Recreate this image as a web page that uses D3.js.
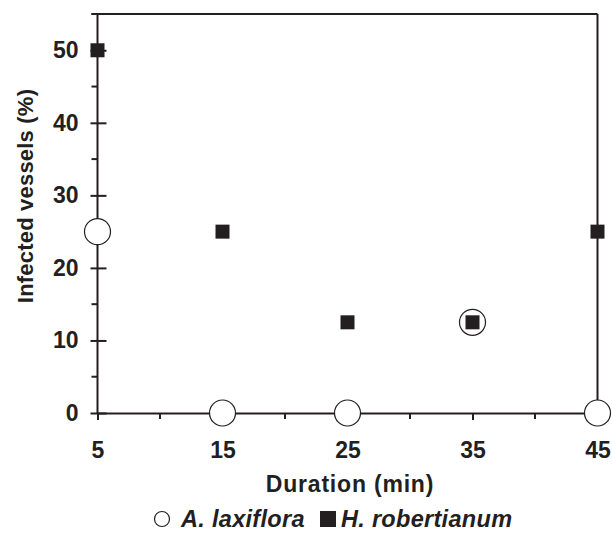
<!DOCTYPE html>
<html>
<head>
<meta charset="utf-8">
<script src="https://cdn.jsdelivr.net/npm/d3@7"></script>
<style>
  body { margin: 0; background: #fff; }
  svg { display: block; font-family: "Liberation Sans", Arial, sans-serif; }
</style>
</head>
<body>
<svg id="chart" width="612" height="538"></svg>
<script>
const durations = [5, 15, 25, 35, 45];
const laxiflora = [25, 0, 0, 12.5, 0];
const robertianum = [50, 25, 12.5, 12.5, 25];
const xTicks = [5, 15, 25, 35, 45];
const yTicks = [0, 10, 20, 30, 40, 50];

const INK = "#231f20";
const svg = d3.select("#chart");

const xScale = d3.scaleLinear().domain([5, 45]).range([97.5, 597.5]);
const yScale = d3.scaleLinear().domain([0, 55]).range([413, 14]);

// frame: top and right edges
svg.append("line")
   .attr("x1", xScale(5) - 6).attr("x2", xScale(45))
   .attr("y1", yScale(55)).attr("y2", yScale(55))
   .attr("stroke", INK).attr("stroke-width", 2);
svg.append("line")
   .attr("x1", xScale(45)).attr("x2", xScale(45))
   .attr("y1", yScale(55)).attr("y2", yScale(0))
   .attr("stroke", INK).attr("stroke-width", 2);

// x axis
const xAxis = d3.axisBottom(xScale)
                .tickValues(xTicks)
                .tickSize(7)
                .tickPadding(22)
                .tickFormat(d3.format("d"));
const gx = svg.append("g")
              .attr("transform", `translate(0, ${yScale(0)})`)
              .call(xAxis);
gx.select(".domain").attr("stroke", INK).attr("stroke-width", 2);
gx.selectAll(".tick line").attr("stroke", INK).attr("stroke-width", 2);
gx.selectAll(".tick text")
  .attr("fill", INK)
  .style("font-size", "23px")
  .style("font-weight", "bold");
gx.selectAll(".minor")
  .data(d3.range(10, 45, 10))
  .enter().append("line")
  .attr("x1", d => xScale(d)).attr("x2", d => xScale(d))
  .attr("y1", 0).attr("y2", 6)
  .attr("stroke", INK).attr("stroke-width", 2);

// y axis
const yAxis = d3.axisLeft(yScale)
                .tickValues(yTicks)
                .tickSize(7)
                .tickPadding(12)
                .tickFormat(d3.format("d"));
const gy = svg.append("g")
              .attr("transform", `translate(${xScale(5)}, 0)`)
              .call(yAxis);
gy.select(".domain").attr("d", `M0,${yScale(0)}V${yScale(55)}`)
  .attr("stroke", INK).attr("stroke-width", 2);
gy.selectAll(".tick line").attr("x2", 9).attr("x1", -7)
  .attr("stroke", INK).attr("stroke-width", 2);
gy.selectAll(".tick text")
  .attr("fill", INK)
  .style("font-size", "23px")
  .style("font-weight", "bold");
gy.selectAll(".minor")
  .data(d3.range(5, 60, 10))
  .enter().append("line")
  .attr("x1", -6).attr("x2", 0)
  .attr("y1", d => yScale(d)).attr("y2", d => yScale(d))
  .attr("stroke", INK).attr("stroke-width", 2);

// axis titles
svg.append("text")
   .attr("x", 350).attr("y", 491.5)
   .attr("text-anchor", "middle")
   .attr("fill", INK)
   .style("font-size", "23px").style("font-weight", "bold")
   .style("letter-spacing", "0.8px")
   .text("Duration (min)");
svg.append("text")
   .attr("transform", "translate(33, 196) rotate(-90)")
   .attr("text-anchor", "middle")
   .attr("fill", INK)
   .style("font-size", "22px").style("font-weight", "bold")
   .style("letter-spacing", "0.2px")
   .text("Infected vessels (%)");

// open circles: A. laxiflora
svg.selectAll("circle.lax")
   .data(durations.map((d, i) => ({x: d, y: laxiflora[i]})))
   .enter().append("circle")
   .attr("class", "lax")
   .attr("cx", d => xScale(d.x))
   .attr("cy", d => yScale(d.y))
   .attr("r", 13)
   .attr("fill", "#fff")
   .attr("stroke", INK)
   .attr("stroke-width", 1.2);

// filled squares: H. robertianum
const SQ = 14;
svg.selectAll("rect.rob")
   .data(durations.map((d, i) => ({x: d, y: robertianum[i]})))
   .enter().append("rect")
   .attr("class", "rob")
   .attr("x", d => xScale(d.x) - SQ / 2)
   .attr("y", d => yScale(d.y) - SQ / 2)
   .attr("width", SQ).attr("height", SQ)
   .attr("fill", INK);

// legend
const legend = svg.append("g");
legend.append("circle")
      .attr("cx", 162).attr("cy", 519).attr("r", 7.5)
      .attr("fill", "#fff").attr("stroke", INK).attr("stroke-width", 1.2);
legend.append("text")
      .attr("x", 181).attr("y", 527)
      .attr("fill", INK)
      .style("font-size", "23.5px").style("font-weight", "bold").style("font-style", "italic")
      .style("letter-spacing", "0.3px")
      .text("A. laxiflora");
legend.append("rect")
      .attr("x", 320).attr("y", 511).attr("width", 16).attr("height", 16)
      .attr("fill", INK);
legend.append("text")
      .attr("x", 341).attr("y", 527)
      .attr("fill", INK)
      .style("font-size", "23.5px").style("font-weight", "bold").style("font-style", "italic")
      .style("letter-spacing", "0.3px")
      .text("H. robertianum");
</script>
</body>
</html>
